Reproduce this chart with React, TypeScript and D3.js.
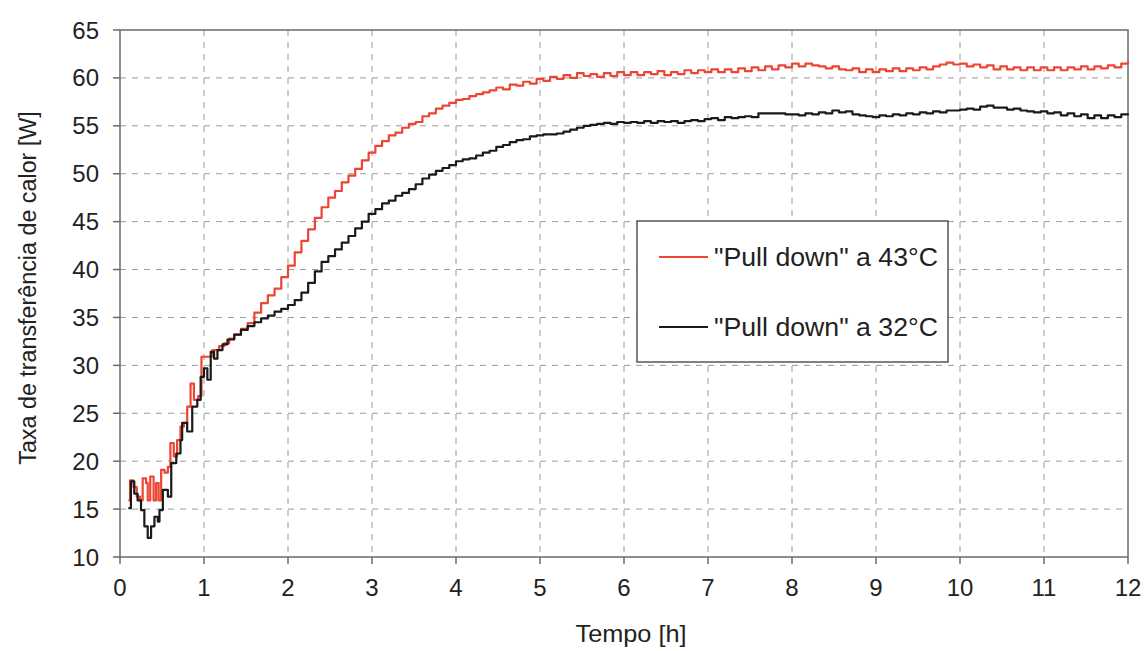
import React from "react";
import * as d3 from "d3";

const W = 1144;
const H = 651;

const xTicks = [0, 1, 2, 3, 4, 5, 6, 7, 8, 9, 10, 11, 12];
const yTicks = [10, 15, 20, 25, 30, 35, 40, 45, 50, 55, 60, 65];

const red43T = [
  0.10, 0.12, 0.16, 0.20, 0.24, 0.27, 0.31, 0.33, 0.36, 0.40, 0.43, 0.46, 0.49, 0.53, 0.57, 0.60, 0.64, 0.68, 0.72, 0.76,
  0.80, 0.84, 0.88, 0.93, 0.97, 1.04, 1.10, 1.18, 1.24, 1.30, 1.36, 1.44, 1.52, 1.60, 1.68, 1.76, 1.84, 1.92, 2.00, 2.08,
  2.16, 2.24, 2.32, 2.40, 2.48, 2.56, 2.64, 2.72, 2.80, 2.88, 2.96, 3.04, 3.12, 3.20, 3.28, 3.36, 3.44, 3.52, 3.60, 3.68,
  3.76, 3.84, 3.92, 4.00, 4.08, 4.16, 4.24, 4.32, 4.40, 4.48, 4.56, 4.64, 4.72, 4.80, 4.88, 4.96, 5.04, 5.12, 5.20, 5.28,
  5.36, 5.44, 5.52, 5.60, 5.68, 5.76, 5.84, 5.92, 6.00, 6.08, 6.16, 6.24, 6.32, 6.40, 6.48, 6.56, 6.64, 6.72, 6.80, 6.88,
  6.96, 7.04, 7.12, 7.20, 7.28, 7.36, 7.44, 7.52, 7.60, 7.68, 7.76, 7.84, 7.92, 8.00, 8.08, 8.16, 8.24, 8.32, 8.40, 8.48,
  8.56, 8.64, 8.72, 8.80, 8.88, 8.96, 9.04, 9.12, 9.20, 9.28, 9.36, 9.44, 9.52, 9.60, 9.68, 9.76, 9.84, 9.92, 10.00, 10.08,
  10.16, 10.24, 10.32, 10.40, 10.48, 10.56, 10.64, 10.72, 10.80, 10.88, 10.96, 11.04, 11.12, 11.20, 11.28, 11.36, 11.44, 11.52, 11.60, 11.68,
  11.76, 11.84, 11.92, 12.00,
];
const red43V = [
  15.9, 18.0, 17.3, 16.3, 15.9, 18.2, 17.7, 15.9, 18.4, 15.9, 17.7, 15.9, 19.1, 18.8, 19.4, 21.9, 20.5, 22.2, 23.6, 24.0,
  25.7, 28.1, 26.4, 26.8, 30.9, 30.9, 31.6, 32.0, 32.3, 32.8, 33.2, 33.8, 34.4, 35.5, 36.5, 37.3, 38.0, 39.2, 40.4, 41.8,
  43.0, 44.2, 45.4, 46.5, 47.5, 48.2, 49.1, 49.8, 50.5, 51.4, 52.2, 52.9, 53.4, 54.0, 54.3, 54.8, 55.2, 55.4, 56.0, 56.3,
  56.8, 57.1, 57.4, 57.7, 57.8, 58.1, 58.3, 58.5, 58.7, 59.0, 58.8, 59.3, 59.2, 59.6, 59.4, 59.9, 59.7, 60.1, 59.9, 60.3,
  60.0, 60.5, 60.2, 60.4, 60.1, 60.5, 60.2, 60.6, 60.3, 60.6, 60.3, 60.6, 60.4, 60.7, 60.3, 60.6, 60.4, 60.8, 60.5, 60.8,
  60.6, 60.9, 60.6, 60.9, 60.6, 61.0, 60.7, 61.1, 60.8, 61.2, 60.9, 61.3, 61.1, 61.5, 61.2, 61.5, 61.3, 61.2, 61.0, 61.2,
  60.9, 60.8, 61.0, 60.6, 60.9, 60.6, 60.9, 60.7, 61.0, 60.7, 61.0, 60.8, 61.1, 60.9, 61.2, 61.4, 61.6, 61.4, 61.5, 61.2,
  61.4, 61.1, 61.3, 60.9, 61.2, 60.9, 61.1, 60.8, 61.1, 60.8, 61.1, 60.8, 61.1, 60.8, 61.1, 60.9, 61.2, 60.9, 61.2, 61.0,
  61.3, 61.1, 61.5, 61.7,
];

const black32T = [
  0.10, 0.13, 0.17, 0.21, 0.25, 0.29, 0.33, 0.37, 0.41, 0.45, 0.47, 0.51, 0.57, 0.61, 0.67, 0.72, 0.74, 0.80, 0.86, 0.92,
  0.96, 1.00, 1.04, 1.08, 1.12, 1.16, 1.22, 1.28, 1.36, 1.44, 1.52, 1.60, 1.68, 1.76, 1.84, 1.92, 2.00, 2.08, 2.16, 2.24,
  2.32, 2.40, 2.48, 2.56, 2.64, 2.72, 2.80, 2.88, 2.96, 3.04, 3.12, 3.20, 3.28, 3.36, 3.44, 3.52, 3.60, 3.68, 3.76, 3.84,
  3.92, 4.00, 4.08, 4.16, 4.24, 4.32, 4.40, 4.48, 4.56, 4.64, 4.72, 4.80, 4.88, 4.96, 5.04, 5.12, 5.20, 5.28, 5.36, 5.44,
  5.52, 5.60, 5.68, 5.76, 5.84, 5.92, 6.00, 6.08, 6.16, 6.24, 6.32, 6.40, 6.48, 6.56, 6.64, 6.72, 6.80, 6.88, 6.96, 7.04,
  7.12, 7.20, 7.28, 7.36, 7.44, 7.52, 7.60, 7.68, 7.76, 7.84, 7.92, 8.00, 8.08, 8.16, 8.24, 8.32, 8.40, 8.48, 8.56, 8.64,
  8.72, 8.80, 8.88, 8.96, 9.04, 9.12, 9.20, 9.28, 9.36, 9.44, 9.52, 9.60, 9.68, 9.76, 9.84, 9.92, 10.00, 10.08, 10.16, 10.24,
  10.32, 10.40, 10.48, 10.56, 10.64, 10.72, 10.80, 10.88, 10.96, 11.04, 11.12, 11.20, 11.28, 11.36, 11.44, 11.52, 11.60, 11.68, 11.76, 11.84,
  11.92, 12.00,
];
const black32V = [
  15.1, 17.9, 16.6, 15.9, 14.9, 13.2, 12.0, 13.2, 14.2, 13.7, 14.9, 17.0, 16.3, 19.8, 20.8, 22.2, 24.0, 23.1, 25.7, 26.4,
  28.8, 29.7, 28.5, 31.4, 30.7, 31.6, 32.2, 32.7, 33.2, 33.7, 34.1, 34.5, 34.9, 35.2, 35.6, 35.9, 36.3, 36.8, 37.6, 38.6,
  39.8, 40.8, 41.4, 42.1, 42.8, 43.5, 44.3, 45.0, 45.8, 46.3, 46.9, 47.2, 47.7, 48.0, 48.4, 48.9, 49.5, 49.9, 50.3, 50.6,
  50.9, 51.3, 51.5, 51.6, 51.9, 52.2, 52.4, 52.8, 53.0, 53.3, 53.5, 53.6, 53.9, 54.0, 54.1, 54.1, 54.2, 54.4, 54.6, 54.8,
  55.0, 55.1, 55.2, 55.3, 55.2, 55.4, 55.3, 55.4, 55.3, 55.5, 55.3, 55.5, 55.4, 55.5, 55.3, 55.5, 55.6, 55.5, 55.7, 55.8,
  55.6, 55.9, 55.8, 55.9, 56.0, 55.9, 56.3, 56.3, 56.3, 56.3, 56.2, 56.2, 56.1, 56.3, 56.2, 56.4, 56.3, 56.6, 56.4, 56.5,
  56.2, 56.1, 56.0, 55.9, 56.1, 56.0, 56.2, 56.1, 56.3, 56.2, 56.4, 56.3, 56.5, 56.4, 56.6, 56.6, 56.7, 56.8, 56.7, 57.0,
  57.1, 56.9, 56.9, 56.7, 56.8, 56.6, 56.5, 56.4, 56.5, 56.3, 56.4, 56.1, 56.3, 56.0, 56.2, 55.8, 56.1, 55.8, 56.1, 55.9,
  56.2, 56.1,
];

const series = [
  { name: "\"Pull down\" a 43°C", t: red43T, v: red43V, color: "#ee4433" },
  { name: "\"Pull down\" a 32°C", t: black32T, v: black32V, color: "#1a1a1a" },
];

const FONT = "'Liberation Sans', Arial, Helvetica, sans-serif";

export default function App() {
  const left = 120, right = 1128, top = 30, bottom = 557;
  const x = d3.scaleLinear().domain([0, 12]).range([left, right]);
  const y = d3.scaleLinear().domain([10, 65]).range([bottom, top]);
  const line = d3
    .line<[number, number]>()
    .x((d) => x(d[0]))
    .y((d) => y(d[1]))
    .curve(d3.curveStepAfter);

  const axisColor = "#6a6a6a";
  const gridColor = "#9a9a9a";

  const legend = { x: 637, y: 221, w: 311, h: 141 };

  return (
    <div style={{ position: "fixed", left: 0, top: 0 }}>
      <svg width={W} height={H} style={{ display: "block", background: "#fff" }} fontFamily={FONT}>
        {/* grid */}
        {xTicks.filter((t) => t > 0 && t < 12).map((t) => (
          <line key={"gx" + t} x1={x(t)} x2={x(t)} y1={top} y2={bottom} stroke={gridColor} strokeWidth={1} strokeDasharray="6,6" />
        ))}
        {yTicks.filter((t) => t > 10 && t < 65).map((t) => (
          <line key={"gy" + t} x1={left} x2={right} y1={y(t)} y2={y(t)} stroke={gridColor} strokeWidth={1} strokeDasharray="6,6" />
        ))}
        {/* frame */}
        <rect x={left} y={top} width={right - left} height={bottom - top} fill="none" stroke={axisColor} strokeWidth={1.5} />
        {/* ticks */}
        {xTicks.map((t) => (
          <g key={"tx" + t}>
            <line x1={x(t)} x2={x(t)} y1={bottom} y2={bottom + 7} stroke={axisColor} strokeWidth={1.5} />
            <text x={x(t)} y={bottom + 39} textAnchor="middle" fontSize={24} fill="#222">{t}</text>
          </g>
        ))}
        {yTicks.map((t) => (
          <g key={"ty" + t}>
            <line x1={left - 7} x2={left} y1={y(t)} y2={y(t)} stroke={axisColor} strokeWidth={1.5} />
            <text x={left - 21} y={y(t) + 8.5} textAnchor="end" fontSize={24} fill="#222">{t}</text>
          </g>
        ))}
        {/* series */}
        {series.map((s) => (
          <path
            key={s.name}
            d={line(s.t.map((tt, i) => [tt, s.v[i]] as [number, number])) || ""}
            fill="none"
            stroke={s.color}
            strokeWidth={2.2}
            strokeLinejoin="round"
          />
        ))}
        {/* legend */}
        <rect x={legend.x} y={legend.y} width={legend.w} height={legend.h} fill="#fff" stroke="#555" strokeWidth={1.5} />
        {series.map((s, i) => {
          const ly = legend.y + 36 + i * 70;
          return (
            <g key={"lg" + i}>
              <line x1={legend.x + 22} x2={legend.x + 71} y1={ly} y2={ly} stroke={s.color} strokeWidth={2} />
              <text x={legend.x + 77} y={ly + 9} fontSize={25} fill="#222" textLength={224} lengthAdjust="spacingAndGlyphs">{s.name}</text>
            </g>
          );
        })}
        {/* axis titles */}
        <text x={631} y={642} textAnchor="middle" fontSize={24} fill="#222" textLength={111} lengthAdjust="spacingAndGlyphs">Tempo [h]</text>
        <text transform={`translate(36, 288) rotate(-90)`} textAnchor="middle" fontSize={23.3} fill="#222">
          Taxa de transferência de calor [W]
        </text>
      </svg>
    </div>
  );
}
